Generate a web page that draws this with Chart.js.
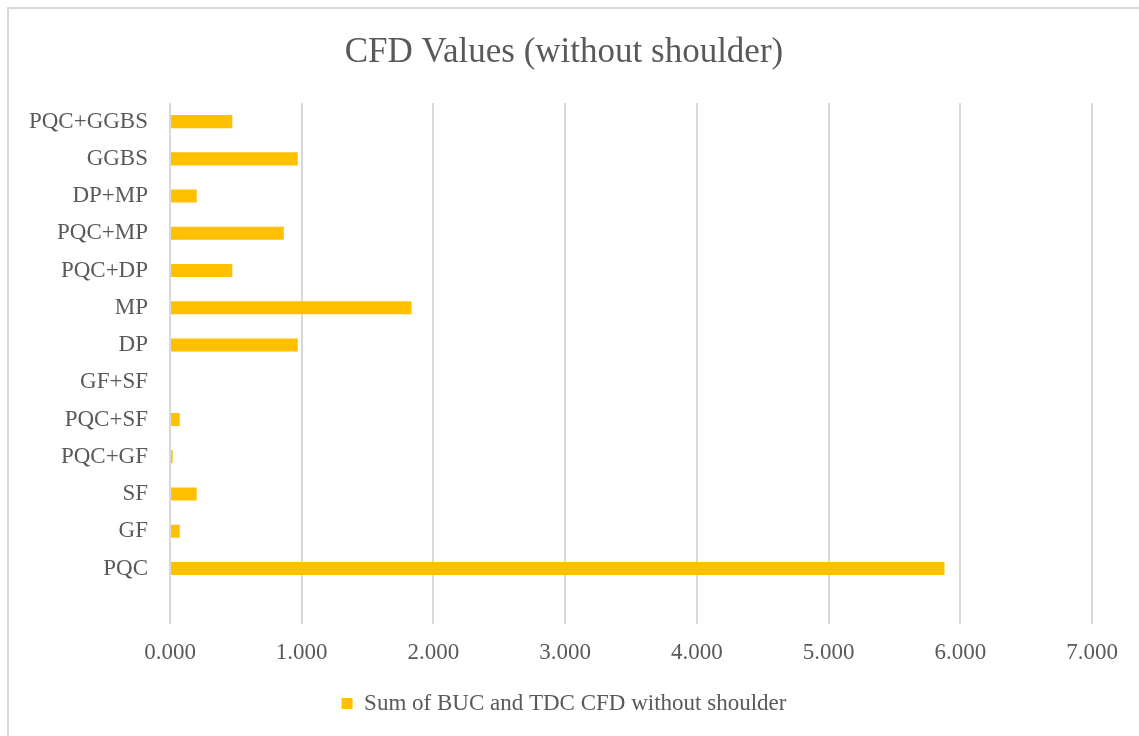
<!DOCTYPE html>
<html lang="en">
<head>
  <meta charset="UTF-8">
  <title>CFD Values (without shoulder)</title>
  <script src="https://cdn.jsdelivr.net/npm/chart.js"></script>
  <style>
    html, body { margin: 0; padding: 0; background: #fff; overflow: hidden; }
    #frame { position: absolute; left: 7px; top: 7px; width: 1200px; height: 800px; border: 2px solid #d9d9d9; box-sizing: border-box; }
    #wrap { position: absolute; left: 0; top: 0; width: 1139px; height: 736px; }
  </style>
</head>
<body>
  <div id="frame"></div>
  <div id="wrap"><canvas id="chart"></canvas></div>

  <script>
    // mixes, listed top to bottom as they appear on the chart (last row is the blank pivot entry)
    const mixes = ["PQC+GGBS", "GGBS", "DP+MP", "PQC+MP", "PQC+DP", "MP", "DP",
                   "GF+SF", "PQC+SF", "PQC+GF", "SF", "GF", "PQC", ""];
    const cfdSum = [0.473, 0.970, 0.203, 0.864, 0.473, 1.834, 0.970,
                    0, 0.074, 0.020, 0.203, 0.074, 5.880, null];
    const xTicks = [0, 1, 2, 3, 4, 5, 6, 7];

    const serif = "'Liberation Serif', 'Times New Roman', serif";
    const grey = "#595959";

    // title and legend sit centred on the whole frame, not on the plot
    const centreHeader = {
      id: "centreHeader",
      afterLayout(chart) {
        if (chart.titleBlock) chart.titleBlock.left += 36;
        if (chart.legend) chart.legend.left += 36;
      }
    };

    new Chart(document.getElementById("chart"), {
      type: "bar",
      data: {
        labels: mixes,
        datasets: [{
          label: "Sum of BUC and TDC CFD without shoulder",
          data: cfdSum,
          backgroundColor: "#FFC000",
          borderWidth: 0,
          categoryPercentage: 1,
          barPercentage: 0.35
        }]
      },
      options: {
        indexAxis: "y",
        responsive: true,
        maintainAspectRatio: false,
        animation: false,
        layout: { padding: { left: 0, right: 47, top: 0, bottom: 11 } },
        plugins: {
          title: {
            display: true,
            text: "CFD Values (without shoulder)",
            color: grey,
            font: { family: serif, size: 35, weight: "normal" },
            padding: { top: 32, bottom: 29 }
          },
          legend: {
            position: "bottom",
            labels: {
              color: grey,
              font: { family: serif, size: 23 },
              boxWidth: 11,
              boxHeight: 11,
              padding: 10
            }
          },
          tooltip: { enabled: false }
        },
        scales: {
          x: {
            min: xTicks[0],
            max: xTicks[xTicks.length - 1],
            afterBuildTicks: (scale) => { scale.ticks = xTicks.map(v => ({ value: v })); },
            grid: { color: "#d9d9d9", lineWidth: 2, drawTicks: false },
            border: { display: false },
            ticks: {
              color: grey,
              font: { family: serif, size: 23 },
              padding: 15,
              callback: (v) => Number(v).toFixed(3)
            }
          },
          y: {
            grid: { display: false, drawTicks: false },
            border: { display: false },
            ticks: {
              color: grey,
              font: { family: serif, size: 23 },
              padding: 22,
              autoSkip: false
            },
            afterFit: (scale) => { scale.width = 170; }
          }
        }
      },
      plugins: [centreHeader]
    });
  </script>
</body>
</html>
